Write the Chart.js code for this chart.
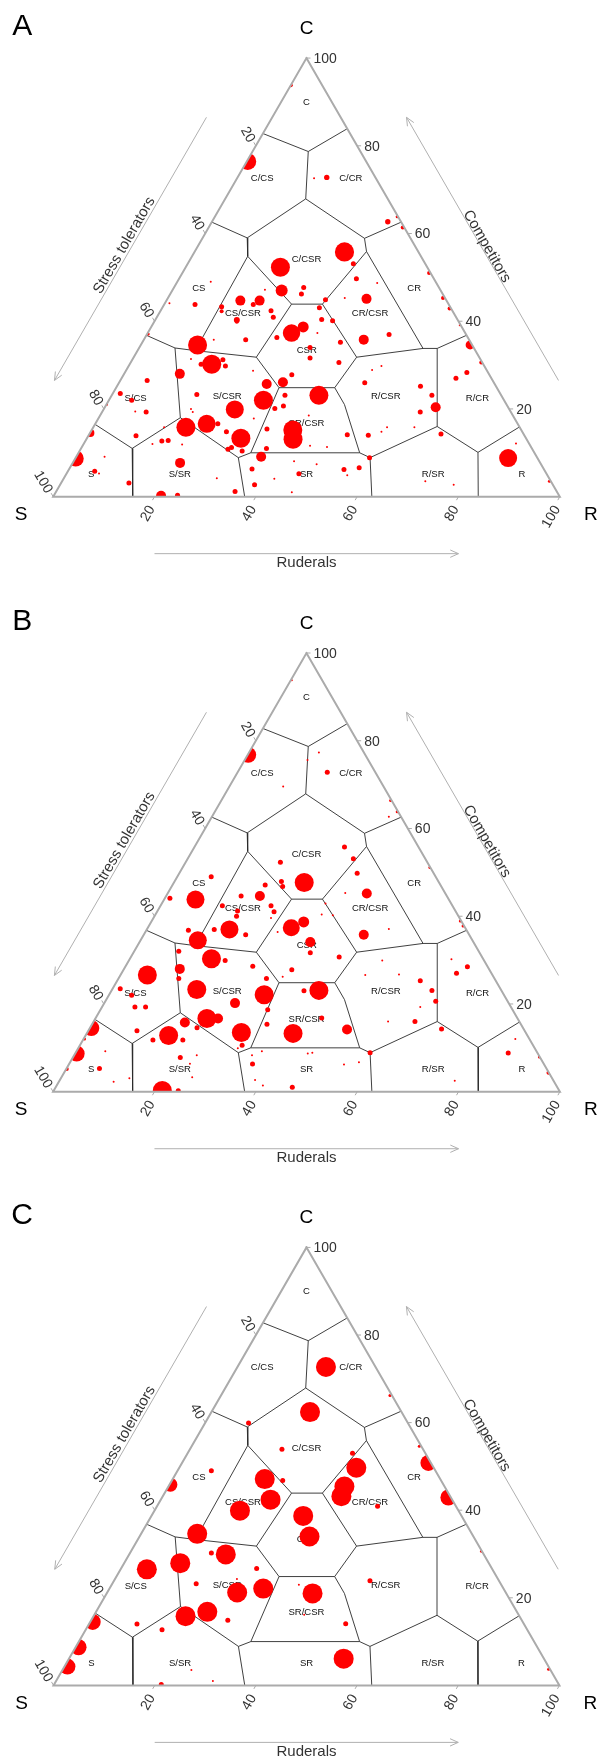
<!DOCTYPE html>
<html>
<head>
<meta charset="utf-8">
<script src="https://cdn.jsdelivr.net/npm/chart.js@4.4.0/dist/chart.umd.min.js"></script>
<style>
html,body{margin:0;padding:0;background:#fff;width:603px;height:1760px;overflow:hidden;}
.panel{position:absolute;left:0;width:603px;height:595px;}
canvas{display:block;}
</style>
</head>
<body>
<div class="panel" style="top:0px"><canvas id="cA" width="603" height="595"></canvas></div>
<div class="panel" style="top:595px"><canvas id="cB" width="603" height="595"></canvas></div>
<div class="panel" style="top:1189px"><canvas id="cC" width="603" height="595"></canvas></div>
<script>
// ---------------- DATA ----------------
const panelLetters = ['A', 'B', 'C'];
const vertexNames = ['C', 'S', 'R'];
const tickValues = [20, 40, 60, 80, 100];
const axisTitles = ['Stress tolerators', 'Competitors', 'Ruderals'];

// CSR strategy region labels (C %, R %)
const regionNames = ['C','C/CS','C/CR','CS','C/CSR','CR','CS/CSR','CR/CSR','CSR','S/CS','S/CSR','R/CSR','R/CR','SR/CSR','S','S/SR','SR','R/SR','R'];
const regionC = [90,72.5,72.5,47.5,54.2,47.5,41.7,41.7,33.3,22.5,22.9,22.9,22.5,16.6,5,5,5,5,5];
const regionR = [5,5,22.5,5,22.9,47.5,16.6,41.7,33.4,5,22.9,54.2,72.5,41.7,5,22.5,47.5,72.5,90];

// Panel A: competitor %, ruderal %, bubble size
const A_C = [93.8,76.4,72.8,72.6,62.7,63.8,61.4,55.8,52.3,53.1,
 49.7,48.7,51.0,47.0,47.7,46.2,49.0,47.2,44.7,44.7,
 43.8,43.8,44.1,43.3,42.3,42.4,40.9,40.3,39.9,45.1,
 45.3,44.9,43.1,40.4,40.1,45.3,42.9,37.3,38.7,36.3,
 35.8,35.8,37.3,34.0,31.6,35.2,35.8,37.0,39.1,34.6,
 37.1,34.6,30.2,30.2,31.2,29.8,31.4,30.6,28.0,28.7,
 27.8,26.1,25.7,27.0,28.3,30.6,28.9,29.8,26.0,25.2,
 23.1,20.4,19.3,26.5,23.5,22.0,19.3,19.4,21.0,23.3,
 22.0,19.9,23.1,20.7,20.1,23.1,20.0,19.3,17.8,15.8,
 16.6,16.6,13.3,14.8,15.2,13.1,15.4,11.0,9.1,10.8,
 11.2,10.4,13.9,12.7,12.8,12.0,11.9,15.8,14.5,8.7,
 5.8,5.3,9.1,3.1,7.7,0.2,0.3,4.2,1.2,6.3,
 2.7,4.1,1.0,8.1,5.2,18.5,11.6,7.4,11.3,14.1,
 14.0,8.9,6.6,6.2,4.9,14.8,15.8,15.8,14.3,8.8,
 12.1,3.5,3.5,2.7];
const A_R = [0,0.2,17.6,15.2,34.7,36.0,38.3,29.6,18.7,32.7,
 35.0,39.6,48.7,21.6,25.6,25.9,6.6,18.2,14.6,18.4,
 17.6,6.1,0.9,11.6,12.1,21.8,23.0,16.1,16.3,39.3,
 34.9,31.3,31.0,32.8,35.1,54.3,56.8,28.4,30.0,26.0,
 20.1,13.8,33.5,33.7,34.9,39.1,43.4,47.8,60.7,65.0,
 0.2,11.2,16.2,14.1,17.9,19.1,11.5,41.1,11.0,25.1,
 33.2,32.3,29.3,66.0,67.5,69.2,48.5,49.9,48.5,59.9,
 63.2,65.3,62.8,5.3,1.5,4.5,8.7,6.5,0.0,16.7,
 30.5,25.9,34.2,35.1,33.7,40.9,17.2,17.9,30.7,18.3,
 22.0,24.2,30.4,26.8,39.7,40.8,34.5,36.6,36.5,29.1,
 29.6,32.1,9.4,15.1,16.3,13.6,19.5,14.0,0.1,0.1,
 5.3,6.4,5.6,13.4,21.2,21.2,24.4,30.2,35.3,36.1,
 38.4,41.6,46.6,43.5,45.9,41.2,44.9,48.3,48.4,51.0,
 55.2,58.0,57.1,54.3,55.6,57.4,58.0,63.4,69.4,85.4,
 85.3,96.2,71.7,77.7];
const A_size = [2,8.5,2.7,1,2.7,1.5,2,9.6,9.5,2.5,
 2.5,1,2,6,2.5,2.5,1,1,5,5,
 2.5,2.5,1,2.5,2,2.5,2.5,3,2,5,
 1,2.5,2.5,2.5,2.5,2,2,8.7,5.5,2.5,
 2.5,1,1,2.5,2.5,2.5,5,2.5,1,4.5,
 1.5,9.5,9.5,2.5,2.5,2.5,1,2.5,5,1,
 2.5,5,5,2.5,2.5,2,1,1,2.5,2.5,
 2.5,5,2.5,2.5,2.5,2.5,2.5,1,1.5,2.5,
 9.5,9,2.5,2.5,2.5,9.5,1,1,1,9.5,
 9,2.5,9.5,2.5,9.5,9.5,2.5,2.5,5,2.5,
 2.5,2.5,2.5,2.5,2.5,1,1,1,4,8,
 2.5,1,1,2.5,5,5,2.5,1,2.5,2.5,
 2.5,1,1,1,2.5,1,1,1,1,2.5,
 2.5,2.5,2.5,2.5,1,1,1,1,2.5,9,
 1,1.5,1,1];

// Panel B
const B_C = [93.8,76.8,77.3,75.6,72.8,69.6,66.4,63.8,62.7,55.8,
 53.1,52.3,49.8,51.1,47.7,47.9,46.8,47.1,49.0,43.8,
 44.1,44.6,44.6,42.4,41.2,40.0,42.4,41.0,39.6,45.2,
 45.3,42.9,40.4,40.2,37.4,38.7,36.4,34.1,31.7,35.8,
 37.1,38.9,37.8,37.0,37.0,35.8,36.8,34.5,30.3,29.9,
 32.0,28.6,27.8,30.7,29.9,26.7,26.6,28.5,27.0,30.2,
 28.0,25.8,26.6,25.8,26.2,23.3,22.1,20.2,23.1,23.0,
 25.3,23.1,20.6,19.3,23.5,22.0,19.3,19.3,16.7,16.7,
 15.8,14.6,13.5,18.7,15.4,13.3,16.8,14.2,16.0,16.0,
 14.3,12.8,11.8,11.8,13.9,10.6,9.9,14.5,8.7,12.0,
 5.2,5.3,9.2,2.3,3.1,7.8,0.3,0.2,3.3,8.3,
 6.4,6.3,8.3,2.7,1.4,1.0,9.2,8.7,8.9,6.2,
 6.7,8.9,2.5,8.8,12.0,7.9,4.3];
const B_R = [0.2,0.1,13.8,12.4,17.7,10.6,33.4,36.0,34.9,29.6,
 32.7,18.7,35.1,48.8,25.7,21.1,21.9,18.3,6.7,6.2,
 1.0,14.8,18.5,12.2,15.8,16.2,21.8,23.1,23.2,39.3,
 35.0,32.3,32.8,35.1,28.3,30.1,26.1,33.7,34.9,43.4,
 47.7,60.9,62.0,16.3,13.3,20.1,8.3,11.3,16.1,19.0,
 8.8,25.1,33.2,41.1,50.0,54.9,48.3,67.5,66.1,63.5,
 11.0,11.9,5.3,29.2,32.2,16.7,30.6,25.8,40.9,38.0,
 59.8,63.2,65.2,62.8,1.5,4.5,6.5,8.6,22.0,24.2,
 18.1,21.1,30.4,33.0,34.5,40.7,44.6,50.9,58.1,63.4,
 69.5,16.4,19.7,13.8,9.6,32.0,31.5,0.3,0.3,0.2,
 0.1,6.5,5.7,10.8,13.5,21.2,21.4,24.6,25.8,24.2,
 23.8,36.2,35.1,38.5,40.7,46.7,36.6,45.9,46.7,54.3,
 57.0,58.1,78.0,85.4,85.2,92.0,95.6];
const B_size = [1,8,1,1,2.5,1,1.5,1.5,1,2.5,
 2.5,2.5,2.5,1.5,9.5,2.5,2.5,2.5,2.5,9,
 2.5,2.5,5,2.5,2.5,2.5,2.5,2.5,1,5,
 1,1,1,1,8.5,5.5,1,5,2.5,5,
 1,1.5,1.5,9,2.5,2.5,2.5,9,9.5,2.5,
 2.5,2.5,2.5,2.5,1,1,1,2.5,2.5,1,
 5,2.5,9.5,2.5,1,9.5,9.5,5,9.5,2.5,
 2.5,2.5,2.5,1,2.5,2.5,2.5,2.5,9.5,5,
 5,2.5,9.5,2.5,2.5,9.5,2.5,5,1,2.5,
 2.5,9.5,2.5,2.5,2.5,2.5,1,8,8,1.5,
 2,2.5,1,1,1,2.5,9.5,2.5,1,1,
 1,2.5,1,1,1,2.5,1,1,1,1,
 1,2.5,1,2.5,1,1.5,2];

// Panel C
const C_C = [59.9,53.9,46.8,49.0,45.8,47.1,42.4,39.9,34.6,30.2,
 29.9,26.7,26.5,27.9,23.2,21.2,22.1,24.3,15.8,16.8,
 14.9,14.0,12.7,14.5,8.7,4.3,3.5,1.0,0.2,72.7,
 62.4,66.2,53.0,49.7,45.4,43.2,40.9,54.6,50.8,42.9,
 38.7,34.0,30.6,23.9,21.0,14.1,6.1,3.7,23.0,16.1];
const C_R = [8.6,18.2,21.9,6.7,0.2,18.2,21.7,16.9,11.1,16.1,
 19.1,26.8,5.2,11.1,16.6,25.7,30.4,24.1,18.2,22.0,
 27.0,9.5,15.1,0.5,0.6,0.6,25.5,31.0,21.2,17.5,
 19.5,33.4,32.6,35.0,34.8,35.3,43.6,45.0,48.7,56.6,
 30.0,33.6,69.3,50.6,40.7,50.7,54.3,96.0,37.0,41.5];
const C_size = [2.5,2.5,2.5,2.5,7,10,10,10,10,2.5,
 10,2.5,10,10,2.5,10,10,1,10,10,
 2.5,2.5,2.5,8,8,8,1,1,2.5,10,
 10,1.5,2.5,10,10,10,2.5,1.5,8,8,
 10,10,1.5,2.5,10,2.5,10,1.5,1,1];

// Strategy-region boundary nodes [C, S, R]
const N_C=[78.7,10.3,11.0], E1_CS=[82.8,17.2,0], E1_CR=[83.9,0,16.1], M_C=[67.9,16.2,15.9];
const P_CS=[59.0,32.2,8.8], P_CR=[58.9,9.1,32.0], E2_CS=[62.6,37.4,0], E2_CR=[62.6,0,37.4];
const Q_CS=[54.8,34.2,11.0], Q_CR=[55.9,10.2,33.9];
const H_CS=[43.9,31.0,25.1], H_CR=[43.9,24.9,31.2], H_RC=[31.8,24.2,44.0], H_RS=[24.85,32.0,43.15], H_SR=[24.85,43.0,32.15], H_SC=[31.8,44.0,24.2];
const Q_SC=[33.3,55.3,11.4], P_SC=[33.9,59.0,7.1], E2_SC=[36.8,63.2,0], M_S=[18.0,65.9,16.1], N_S=[11.0,78.9,10.1];
const E1_SC=[16.5,83.5,0], E1_SR=[0,84.3,15.7], P_SR=[8.9,59.0,32.1], E2_SR=[0,62.2,37.8], Q_SR=[10.0,56.0,34.0];
const K_RS=[21.0,32.0,47.0], Q_RS=[10.0,34.5,55.5], P_RS=[8.9,33.0,58.1], E2_RS=[0,37.1,62.9];
const M_R=[16.0,16.2,67.8], N_R=[10.1,11.1,78.8], E1_RS=[0,16.1,83.9], E1_RC=[15.9,0,84.1];
const P_RC=[33.8,7.3,58.9], Q_RC=[33.8,10.1,56.1], E2_RC=[36.8,0,63.2];
const boundaryLines = [
  [E1_CS, N_C, E1_CR],
  [N_C, M_C],
  [E2_CS, P_CS, M_C, P_CR, E2_CR],
  [P_CS, Q_CS, H_CS, H_CR, Q_CR, P_CR],
  [Q_CS, Q_SC],
  [Q_CR, Q_RC],
  [H_CS, H_SC, Q_SC, P_SC, E2_SC],
  [P_SC, M_S, N_S, E1_SC],
  [N_S, E1_SR],
  [M_S, P_SR, E2_SR],
  [P_SR, Q_SR, H_SR, H_SC],
  [H_SR, H_RS, K_RS, Q_RS, P_RS, E2_RS],
  [Q_SR, Q_RS],
  [P_RS, M_R, N_R, E1_RS],
  [N_R, E1_RC],
  [M_R, P_RC, E2_RC],
  [P_RC, Q_RC, H_RC, H_RS],
  [H_RC, H_CR]
];

// ---------------- RENDERING ----------------
const FONT = "'Liberation Sans', Arial, Helvetica, sans-serif";
const SQ = Math.sqrt(3) / 2;
function toXY(c, r) { return { x: r + c / 2, y: c * SQ }; }
function pix(chart, c, r) {
  const p = toXY(c, r);
  return [chart.scales.x.getPixelForValue(p.x), chart.scales.y.getPixelForValue(p.y)];
}
function seg(ctx, x1, y1, x2, y2) { ctx.beginPath(); ctx.moveTo(x1, y1); ctx.lineTo(x2, y2); ctx.stroke(); }
function arrow(ctx, x1, y1, x2, y2) {
  seg(ctx, x1, y1, x2, y2);
  const a = Math.atan2(y2 - y1, x2 - x1), L = 9, w = 0.42;
  ctx.beginPath();
  ctx.moveTo(x2 - L * Math.cos(a - w), y2 - L * Math.sin(a - w));
  ctx.lineTo(x2, y2);
  ctx.lineTo(x2 - L * Math.cos(a + w), y2 - L * Math.sin(a + w));
  ctx.stroke();
}
const lerp = (p, q, t) => [p[0] + (q[0] - p[0]) * t, p[1] + (q[1] - p[1]) * t];

const decor = {
  id: 'ternaryDecor',
  beforeDatasetsDraw(chart) {
    const ctx = chart.ctx;
    ctx.save();
    ctx.fillStyle = '#111111';
    ctx.font = '9.5px ' + FONT;
    ctx.textAlign = 'center';
    ctx.textBaseline = 'middle';
    regionNames.forEach((n, i) => {
      const [x, y] = pix(chart, regionC[i], regionR[i]);
      ctx.fillText(n, x, y);
    });
    ctx.restore();
  },
  beforeDatasetDraw(chart, args) {
    const ds = chart.data.datasets[args.index];
    if (!ds.clipTriangle) return;
    const ctx = chart.ctx;
    const a = pix(chart, 100, 0), b = pix(chart, 0, 0), c = pix(chart, 0, 100);
    ctx.save();
    ctx.beginPath(); ctx.moveTo(a[0], a[1]); ctx.lineTo(b[0], b[1]); ctx.lineTo(c[0], c[1]); ctx.closePath();
    ctx.clip();
  },
  afterDatasetDraw(chart, args) {
    if (chart.data.datasets[args.index].clipTriangle) chart.ctx.restore();
  },
  afterDraw(chart, args, opts) {
    const ctx = chart.ctx;
    const Cv = pix(chart, 100, 0), Sv = pix(chart, 0, 0), Rv = pix(chart, 0, 100);
    ctx.save();
    // ticks and tick labels
    ctx.font = '14px ' + FONT;
    ctx.fillStyle = '#333333';
    ctx.strokeStyle = '#aaaaaa';
    ctx.lineWidth = 1;
    ctx.textBaseline = 'middle';
    tickValues.forEach(v => {
      let [x, y] = pix(chart, v, 100 - v);           // C axis, right edge
      seg(ctx, x, y, x + 4, y);
      ctx.textAlign = 'left';
      ctx.fillText(String(v), x + 7, y + 1);
      [x, y] = pix(chart, 100 - v, 0);               // S axis, left edge
      seg(ctx, x, y, x - 2, y - 3.5);
      ctx.save(); ctx.translate(x - 4.3, y - 4.3); ctx.rotate(Math.PI / 3);
      ctx.textAlign = 'right'; ctx.fillText(String(v), 0, 0); ctx.restore();
      [x, y] = pix(chart, 0, v);                     // R axis, bottom edge
      seg(ctx, x, y, x - 2, y + 3.5);
      ctx.save(); ctx.translate(x - 2.6, y + 10.2); ctx.rotate(-Math.PI / 3);
      ctx.textAlign = 'right'; ctx.fillText(String(v), 0, 0); ctx.restore();
    });
    // arrows
    ctx.strokeStyle = '#b0b0b0';
    ctx.lineWidth = 1;
    const off = 57;
    const nL = [-SQ, -0.5], nR = [SQ, -0.5], nB = [0, 1];
    let p1 = lerp(Cv, Sv, 0.2), p2 = lerp(Cv, Sv, 0.8);
    arrow(ctx, p1[0] + nL[0] * off, p1[1] + nL[1] * off, p2[0] + nL[0] * off, p2[1] + nL[1] * off);
    p1 = lerp(Rv, Cv, 0.2); p2 = lerp(Rv, Cv, 0.8);
    arrow(ctx, p1[0] + nR[0] * off, p1[1] + nR[1] * off, p2[0] + nR[0] * off, p2[1] + nR[1] * off);
    p1 = lerp(Sv, Rv, 0.2); p2 = lerp(Sv, Rv, 0.8);
    arrow(ctx, p1[0] + nB[0] * off, p1[1] + nB[1] * off, p2[0] + nB[0] * off, p2[1] + nB[1] * off);
    // axis titles
    ctx.font = '15px ' + FONT;
    ctx.fillStyle = '#333333';
    ctx.textAlign = 'center';
    ctx.textBaseline = 'middle';
    let m = lerp(Cv, Sv, 0.5);
    ctx.save(); ctx.translate(m[0] + nL[0] * 64, m[1] + nL[1] * 64); ctx.rotate(-Math.PI / 3);
    ctx.fillText(axisTitles[0], 0, 0); ctx.restore();
    m = lerp(Rv, Cv, 0.5);
    ctx.save(); ctx.translate(m[0] + nR[0] * 62, m[1] + nR[1] * 62); ctx.rotate(Math.PI / 3);
    ctx.fillText(axisTitles[1], 0, 0); ctx.restore();
    m = lerp(Sv, Rv, 0.5);
    ctx.fillText(axisTitles[2], m[0], m[1] + 66);
    // vertex labels
    ctx.fillStyle = '#000000';
    ctx.font = '19px ' + FONT;
    ctx.textBaseline = 'alphabetic';
    ctx.fillText(vertexNames[0], Cv[0], Cv[1] - 24);
    ctx.fillText(vertexNames[1], Sv[0] - 32, Sv[1] + 23.4);
    ctx.fillText(vertexNames[2], Rv[0] + 31, Rv[1] + 23.4);
    // panel letter
    ctx.font = '30px ' + FONT;
    ctx.fillText(opts.letter, 22.2, 35);
    ctx.restore();
  }
};

function makeChart(id, letter, cArr, rArr, sizeArr) {
  const pts = cArr.map((c, i) => { const p = toXY(c, rArr[i]); return { x: p.x, y: p.y, r: sizeArr[i] }; });
  const datasets = [];
  datasets.push({
    type: 'scatter', data: [toXY(100, 0), toXY(0, 0), toXY(0, 100), toXY(100, 0)],
    showLine: true, borderColor: '#ababab', borderWidth: 2, pointRadius: 0, fill: false,
    borderJoinStyle: 'miter', borderCapStyle: 'square', order: 0
  });
  datasets.push({
    type: 'bubble', data: pts, backgroundColor: '#ff0000', borderColor: '#ff0000',
    borderWidth: 0, hoverRadius: 0, order: 1, clipTriangle: true
  });
  boundaryLines.forEach(line => {
    datasets.push({
      type: 'scatter', data: line.map(n => toXY(n[0], n[2])),
      showLine: true, borderColor: '#2a2a2a', borderWidth: 0.9, pointRadius: 0, fill: false, order: 2
    });
  });
  const k = 5.233, ox = 45, oy = 503.3, W = 603, H = 595;
  return new Chart(document.getElementById(id), {
    type: 'bubble',
    data: { datasets },
    plugins: [decor],
    options: {
      responsive: false,
      animation: false,
      events: [],
      layout: { padding: 0 },
      plugins: { legend: { display: false }, tooltip: { enabled: false }, ternaryDecor: { letter } },
      scales: {
        x: { type: 'linear', display: false, min: -ox / k, max: (W - ox) / k },
        y: { type: 'linear', display: false, min: (oy - H) / k, max: oy / k }
      }
    }
  });
}

makeChart('cA', panelLetters[0], A_C, A_R, A_size);
makeChart('cB', panelLetters[1], B_C, B_R, B_size);
makeChart('cC', panelLetters[2], C_C, C_R, C_size);
</script>
</body>
</html>
